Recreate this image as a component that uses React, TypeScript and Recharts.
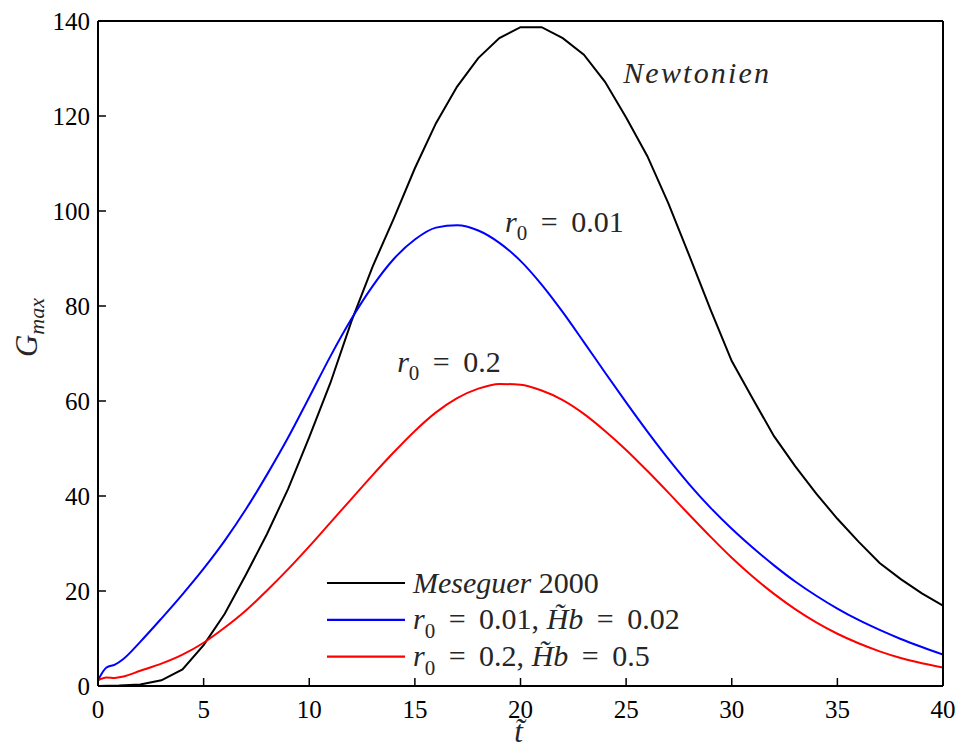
import React from 'react';
import { LineChart, Line, XAxis, YAxis, Legend, ReferenceDot, Label } from 'recharts';

// ---- data ----
const tBlack = [0, 1, 2, 3, 4, 5, 6, 7, 8, 9, 10, 11, 12, 13, 14, 15, 16, 17, 18, 19, 20, 21, 22, 23, 24, 25, 26, 27, 28, 29, 30, 31, 32, 33, 34, 35, 36, 37, 38, 39, 40];
const gBlack = [0, 0.1, 0.3, 1.2, 3.5, 8.6, 15.2, 23.4, 32.0, 41.5, 52.4, 63.8, 76.8, 88.3, 98.4, 109.0, 118.5, 126.2, 132.2, 136.4, 138.7, 138.7, 136.4, 132.9, 127.2, 119.7, 111.6, 101.6, 90.5, 79.2, 68.4, 60.4, 52.6, 46.3, 40.5, 35.2, 30.4, 25.9, 22.5, 19.5, 16.9];

const tBlue = [0, 0.4, 0.8, 1.2, 2, 3, 4, 5, 6, 7, 8, 9, 10, 11, 12, 13, 14, 15, 16, 17, 18, 19, 20, 21, 22, 23, 24, 25, 26, 27, 28, 29, 30, 31, 32, 33, 34, 35, 36, 37, 38, 39, 40];
const gBlue = [1.2, 3.9, 4.5, 5.7, 9.3, 14.2, 19.3, 24.7, 30.6, 37.2, 44.5, 52.3, 60.8, 69.4, 77.3, 84.2, 89.9, 94.0, 96.5, 97.0, 95.9, 93.3, 89.5, 84.5, 78.7, 72.4, 66.0, 59.7, 53.6, 47.8, 42.4, 37.5, 33.1, 29.1, 25.4, 22.0, 19.0, 16.3, 13.9, 11.8, 9.9, 8.2, 6.6];

const tRed = [0, 0.4, 0.8, 1.2, 2, 3, 4, 5, 6, 7, 8, 9, 10, 11, 12, 13, 14, 15, 16, 17, 18, 19, 20, 21, 22, 23, 24, 25, 26, 27, 28, 29, 30, 31, 32, 33, 34, 35, 36, 37, 38, 39, 40];
const gRed = [1.2, 1.8, 1.7, 2.0, 3.2, 4.7, 6.6, 9.1, 12.3, 15.9, 20.1, 24.6, 29.4, 34.4, 39.4, 44.4, 49.2, 53.7, 57.6, 60.6, 62.6, 63.6, 63.4, 62.2, 60.2, 57.3, 53.7, 49.7, 45.3, 40.7, 36.0, 31.4, 27.0, 23.0, 19.4, 16.2, 13.4, 11.0, 9.0, 7.3, 5.9, 4.8, 3.9];

const xTicks = [0, 5, 10, 15, 20, 25, 30, 35, 40];
const yTicks = [0, 20, 40, 60, 80, 100, 120, 140];

const seriesNames = ['Meseguer 2000', 'r0 = 0.01, Hb = 0.02', 'r0 = 0.2, Hb = 0.5'];
const seriesColors = ['#000000', '#0000ff', '#ff0000'];

type Part = { s: string; it?: boolean; sub?: boolean; ls?: number };

const EQ = ' \u2009=\u2009 ';

const legendParts: Part[][] = [
  [{ s: 'Meseguer', it: true }, { s: ' 2000' }],
  [{ s: 'r', it: true }, { s: '0', sub: true }, { s: EQ + '0.01, ' }, { s: 'H\u0303b', it: true }, { s: EQ + '0.02' }],
  [{ s: 'r', it: true }, { s: '0', sub: true }, { s: EQ + '0.2, ' }, { s: 'H\u0303b', it: true }, { s: EQ + '0.5' }],
];

const annotations: { t: number; g: number; parts: Part[] }[] = [
  { t: 24.86, g: 126.9, parts: [{ s: 'Newtonien', it: true, ls: 2.2 }] },
  { t: 19.27, g: 95.6, parts: [{ s: 'r', it: true }, { s: '0', sub: true }, { s: EQ + '0.01' }] },
  { t: 14.16, g: 66.2, parts: [{ s: 'r', it: true }, { s: '0', sub: true }, { s: EQ + '0.2' }] },
];

const blackData = tBlack.map((t, i) => ({ t, g: gBlack[i] }));
const blueData = tBlue.map((t, i) => ({ t, g: gBlue[i] }));
const redData = tRed.map((t, i) => ({ t, g: gRed[i] }));

const SERIF = "'Liberation Serif', Tinos, 'DejaVu Serif', 'Noto Serif', serif";
const MATH_FILL = '#262626';

function renderParts(parts: Part[], size: number) {
  const out: React.ReactNode[] = [];
  let pending = 0;
  parts.forEach((p, i) => {
    if (p.sub) {
      out.push(
        <tspan key={i} dy={size * 0.28} fontSize={size * 0.7} fontStyle="normal">
          {p.s}
        </tspan>
      );
      pending = -size * 0.28;
    } else {
      out.push(
        <tspan
          key={i}
          dy={pending}
          fontSize={size}
          fontStyle={p.it ? 'italic' : 'normal'}
          letterSpacing={p.ls ?? 0}
        >
          {p.s}
        </tspan>
      );
      pending = 0;
    }
  });
  return out;
}

function MathText({ x, y, parts, size }: { x: number; y: number; parts: Part[]; size: number }) {
  return (
    <text x={x} y={y} fontSize={size} fill={MATH_FILL} style={{ whiteSpace: 'pre', fontFamily: SERIF }}>
      {renderParts(parts, size)}
    </text>
  );
}

function LegendContent(props: any) {
  const payload = props.payload || [];
  const rowH = 36.8;
  return (
    <svg width={400} height={120} style={{ display: 'block', overflow: 'visible' }}>
      {payload.map((entry: any, i: number) => {
        const idx = seriesNames.indexOf(entry.value);
        const y = 23 + i * rowH;
        return (
          <g key={i}>
            <line x1={7} x2={85} y1={y} y2={y} stroke={entry.color} strokeWidth={2.2} />
            <MathText x={93} y={y + 9.5} parts={legendParts[idx >= 0 ? idx : i]} size={30} />
          </g>
        );
      })}
    </svg>
  );
}

const tickStyle = { fill: '#000', fontSize: 25, fontFamily: SERIF, style: { fontFamily: SERIF } };
const axisLineStyle = { stroke: '#000', strokeWidth: 2 };
const tickLineStyle = { stroke: '#000', strokeWidth: 1.5 };

export default function App() {
  return (
    <div style={{ position: 'absolute', left: 0, top: 0, width: 959, height: 749, background: '#fff', fontFamily: SERIF }}>
      <LineChart width={959} height={749} margin={{ top: 0, right: 0, bottom: 0, left: 0 }} style={{ fontFamily: SERIF }}>
        <XAxis
          dataKey="t"
          type="number"
          domain={[0, 40]}
          ticks={xTicks}
          interval={0}
          height={63}
          tickSize={-8}
          tickMargin={22}
          tick={tickStyle}
          axisLine={axisLineStyle}
          tickLine={tickLineStyle}
          allowDataOverflow
        >
          <Label
            content={(p: any) => {
              const vb = p.viewBox || { x: 98, y: 686, width: 845, height: 63 };
              return (
                <text
                  x={vb.x + vb.width / 2 - 2}
                  y={vb.y + 56}
                  textAnchor="middle"
                  fontSize={31}
                  fontStyle="italic"
                  fill={MATH_FILL}
                  style={{ fontFamily: SERIF }}
                >
                  {'t\u0303'}
                </text>
              );
            }}
          />
        </XAxis>
        <XAxis
          xAxisId="top"
          orientation="top"
          type="number"
          domain={[0, 40]}
          ticks={xTicks}
          interval={0}
          height={21}
          tickSize={-8}
          tickFormatter={() => ''}
          axisLine={axisLineStyle}
          tickLine={tickLineStyle}
        />
        <YAxis
          type="number"
          domain={[0, 140]}
          ticks={yTicks}
          interval={0}
          width={98}
          tickSize={-8}
          tickMargin={16}
          tick={tickStyle}
          axisLine={axisLineStyle}
          tickLine={tickLineStyle}
        >
          <Label
            content={(p: any) => {
              const vb = p.viewBox || { x: 0, y: 21, width: 98, height: 665 };
              const cx = vb.x + 37;
              const cy = vb.y + vb.height / 2 - 26;
              return (
                <text
                  x={cx}
                  y={cy}
                  transform={`rotate(-90, ${cx}, ${cy})`}
                  textAnchor="middle"
                  fontSize={31}
                  fontStyle="italic"
                  fill={MATH_FILL}
                  style={{ fontFamily: SERIF }}
                >
                  G
                  <tspan dy={7} fontSize={22}>
                    max
                  </tspan>
                </text>
              );
            }}
          />
        </YAxis>
        <YAxis
          yAxisId="right"
          orientation="right"
          type="number"
          domain={[0, 140]}
          ticks={yTicks}
          interval={0}
          width={16}
          tickSize={-8}
          tickFormatter={() => ''}
          axisLine={axisLineStyle}
          tickLine={tickLineStyle}
        />
        <Line
          data={blackData}
          dataKey="g"
          name={seriesNames[0]}
          type="linear"
          stroke={seriesColors[0]}
          strokeWidth={2}
          dot={false}
          isAnimationActive={false}
        />
        <Line
          data={blueData}
          dataKey="g"
          name={seriesNames[1]}
          type="monotone"
          stroke={seriesColors[1]}
          strokeWidth={2}
          dot={false}
          isAnimationActive={false}
        />
        <Line
          data={redData}
          dataKey="g"
          name={seriesNames[2]}
          type="monotone"
          stroke={seriesColors[2]}
          strokeWidth={2}
          dot={false}
          isAnimationActive={false}
        />
        {annotations.map((a, i) => (
          <ReferenceDot
            key={i}
            x={a.t}
            y={a.g}
            r={0}
            ifOverflow="visible"
            shape={(p: any) => <MathText x={p.cx} y={p.cy} parts={a.parts} size={30} />}
          />
        ))}
        <Legend
          layout="vertical"
          align="center"
          verticalAlign="middle"
          content={LegendContent}
          wrapperStyle={{ position: 'absolute', left: 320, top: 560, width: 400, height: 120 }}
        />
      </LineChart>
    </div>
  );
}
